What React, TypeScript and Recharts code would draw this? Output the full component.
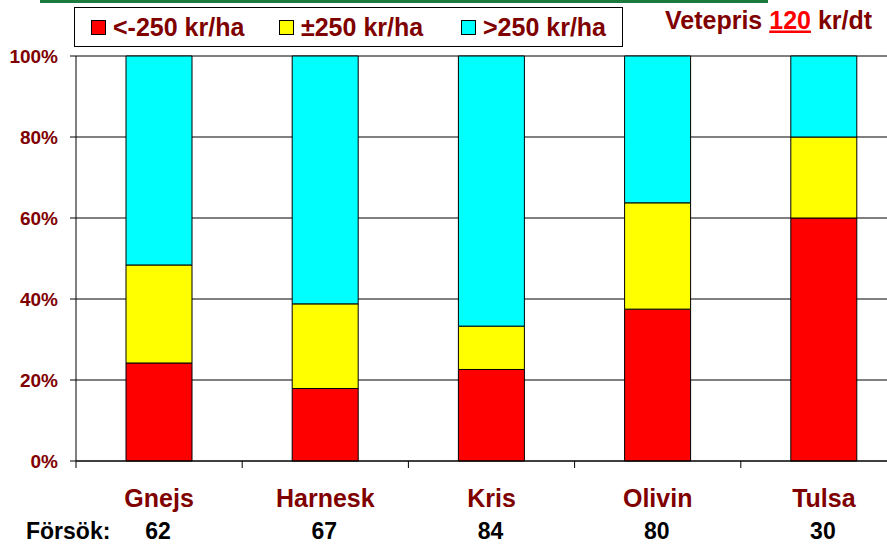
import React from 'react';
import { BarChart, Bar, XAxis, YAxis, CartesianGrid } from 'recharts';

const categories = ['Gnejs', 'Harnesk', 'Kris', 'Olivin', 'Tulsa'];
const trials = [62, 67, 84, 80, 30];
const lowShare = [24.2, 17.9, 22.6, 37.5, 60];
const midShare = [24.2, 20.9, 10.7, 26.25, 20];
const highShare = [51.6, 61.2, 66.7, 36.25, 20];
const yTicks = [0, 20, 40, 60, 80, 100];
const seriesNames = ['<-250 kr/ha', '±250 kr/ha', '>250 kr/ha'];
const seriesColors = ['#FF0000', '#FFFF00', '#00FFFF'];
const priceLabel = ['Vetepris ', '120', ' kr/dt'];
const trialsLabel = 'Försök:';

const data = categories.map((c, i) => ({
  name: c,
  trials: trials[i],
  low: lowShare[i],
  mid: midShare[i],
  high: highShare[i],
}));

const DARK_RED = '#800000';
const FONT = '"Liberation Sans", Arial, sans-serif';
const CHART_W = 920;
const CHART_H = 545;
const X_H = 84;
const MARGIN = { top: 56, right: 13, bottom: 0, left: 0 };
const Y_W = 76;
const BAND = (CHART_W - MARGIN.right - MARGIN.left - Y_W) / categories.length;

const CategoryTick = (props: any) => {
  const { x, y, payload, index } = props;
  return (
    <g>
      <line x1={x - BAND / 2} x2={x - BAND / 2} y1={y} y2={y + 7} stroke="#000" strokeWidth={1} />
      <text x={x} y={y + 46} textAnchor="middle" fontFamily={FONT} fontWeight="bold" fontSize={25} fill={DARK_RED}>
        {payload.value}
      </text>
      <text x={x - 1} y={y + 78} textAnchor="middle" fontFamily={FONT} fontWeight="bold" fontSize={23} fill="#000">
        {trials[index]}
      </text>
    </g>
  );
};

export default function App() {
  const legendX = [91, 279, 461];
  return (
    <div style={{ position: 'absolute', left: 0, top: 0, width: 887, height: 545, overflow: 'hidden', background: '#fff', fontFamily: FONT }}>
      <BarChart width={CHART_W} height={CHART_H} data={data} margin={MARGIN}>
        <CartesianGrid horizontal={true} vertical={false} stroke="#000" strokeWidth={1} />
        <YAxis
          width={Y_W}
          domain={[0, 100]}
          ticks={yTicks}
          tickFormatter={(v: number) => `${v}%`}
          axisLine={{ stroke: '#000' }}
          tickLine={{ stroke: '#000' }}
          tickSize={6}
          tickMargin={12}
          tick={{ fill: DARK_RED, fontSize: 19, fontWeight: 'bold', fontFamily: FONT }}
        />
        <XAxis
          dataKey="name"
          axisLine={{ stroke: '#000' }}
          tickLine={false}
          tickSize={0}
          tickMargin={0}
          height={X_H}
          interval={0}
          tick={<CategoryTick />}
        />
        <Bar dataKey="low" stackId="a" fill={seriesColors[0]} stroke="#000" strokeWidth={1} barSize={66} isAnimationActive={false} />
        <Bar dataKey="mid" stackId="a" fill={seriesColors[1]} stroke="#000" strokeWidth={1} barSize={66} isAnimationActive={false} />
        <Bar dataKey="high" stackId="a" fill={seriesColors[2]} stroke="#000" strokeWidth={1} barSize={66} isAnimationActive={false} />
      </BarChart>
      <svg width={887} height={545} style={{ position: 'absolute', left: 0, top: 0, pointerEvents: 'none' }}>
        <rect x={40} y={0} width={728} height={3} fill="#1b7a3c" />
        <rect x={74.5} y={7.5} width={548} height={39} fill="#fff" stroke="#000" strokeWidth={1} />
        {seriesNames.map((n, i) => (
          <g key={n}>
            <rect x={legendX[i] + 0.5} y={20.5} width={14} height={14} fill={seriesColors[i]} stroke="#000" strokeWidth={1} />
            <text x={legendX[i] + 22} y={36} fontFamily={FONT} fontWeight="bold" fontSize={25} fill={DARK_RED}>
              {n}
            </text>
          </g>
        ))}
        <text x={665} y={28.5} fontFamily={FONT} fontWeight="bold" fontSize={25} fill={DARK_RED}>
          <tspan>{priceLabel[0]}</tspan>
          <tspan fill="#FF0000" textDecoration="underline">{priceLabel[1]}</tspan>
          <tspan>{priceLabel[2]}</tspan>
        </text>
        <text x={26} y={539} fontFamily={FONT} fontWeight="bold" fontSize={23} fill="#000">
          {trialsLabel}
        </text>
      </svg>
    </div>
  );
}
